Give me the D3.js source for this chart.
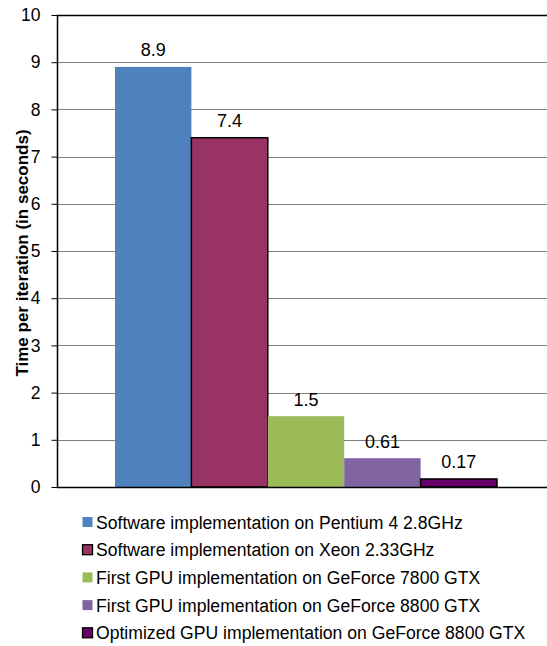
<!DOCTYPE html>
<html>
<head>
<meta charset="utf-8">
<script src="https://cdn.jsdelivr.net/npm/d3@7/dist/d3.min.js"></script>
<style>
  html, body { margin: 0; padding: 0; background: #fff; }
  svg { display: block; font-family: Arial, "Liberation Sans", sans-serif; }
</style>
</head>
<body>
<svg id="chart" width="547" height="646"></svg>
<script>
// Iteration times for each implementation
const seriesNames = [
  "Software implementation on Pentium 4 2.8GHz",
  "Software implementation on Xeon 2.33GHz",
  "First GPU implementation on GeForce 7800 GTX",
  "First GPU implementation on GeForce 8800 GTX",
  "Optimized GPU implementation on GeForce 8800 GTX"
];
const seriesValues = [8.9, 7.4, 1.5, 0.61, 0.17];
const valueLabels = ["8.9", "7.4", "1.5", "0.61", "0.17"];
const seriesColors = ["#4F81BD", "#993366", "#9BBB59", "#8064A2", "#660066"];
const seriesOutlined = [false, true, false, false, true];
const yTicks = [0, 1, 2, 3, 4, 5, 6, 7, 8, 9, 10];
const yTitle = "Time per iteration (in seconds)";

const svg = d3.select("#chart");

const plot = { left: 57, right: 547, top: 15, bottom: 487 };

const y = d3.scaleLinear().domain([0, 10]).range([plot.bottom, plot.top]);
const x = d3.scaleBand()
  .domain(d3.range(seriesNames.length))
  .range([115, 497])
  .padding(0);

// horizontal gridlines
svg.append("g")
  .selectAll("line")
  .data(yTicks.filter(t => t > 0))
  .join("line")
  .attr("x1", plot.left)
  .attr("x2", plot.right)
  .attr("y1", d => Math.round(y(d)) + 0.5)
  .attr("y2", d => Math.round(y(d)) + 0.5)
  .attr("stroke", d => d === 10 ? "#000" : "#808080")
  .attr("stroke-width", d => d === 10 ? 1.5 : 1.2);

// y axis
const yAxis = d3.axisLeft(y)
  .tickValues(yTicks)
  .tickSize(6)
  .tickPadding(11)
  .tickFormat(d3.format("d"));

const ga = svg.append("g")
  .attr("transform", `translate(${plot.left + 0.5},0)`)
  .call(yAxis);
ga.select(".domain").remove();
ga.selectAll(".tick line").attr("stroke", "#000");
ga.selectAll(".tick text")
  .attr("fill", "#000")
  .style("font-size", "17.5px")
  .style("font-family", "Arial, 'Liberation Sans', sans-serif");

// bars
svg.append("g")
  .selectAll("rect")
  .data(seriesValues)
  .join("rect")
  .attr("x", (d, i) => x(i))
  .attr("width", x.bandwidth())
  .attr("y", d => y(d))
  .attr("height", d => y(0) - y(d))
  .attr("fill", (d, i) => seriesColors[i])
  .attr("stroke", (d, i) => seriesOutlined[i] ? "#000" : "none")
  .attr("stroke-width", 1.5);

// value labels
svg.append("g")
  .selectAll("text")
  .data(seriesValues)
  .join("text")
  .attr("x", (d, i) => x(i) + x.bandwidth() / 2)
  .attr("y", d => y(d) - 10.5)
  .attr("text-anchor", "middle")
  .style("font-size", "18px")
  .attr("fill", "#000")
  .text((d, i) => valueLabels[i]);

// axis lines (vertical axis and baseline)
svg.append("line")
  .attr("x1", plot.left + 0.5).attr("x2", plot.left + 0.5)
  .attr("y1", plot.top).attr("y2", plot.bottom + 0.5)
  .attr("stroke", "#000").attr("stroke-width", 1.5);
svg.append("line")
  .attr("x1", plot.left).attr("x2", plot.right)
  .attr("y1", plot.bottom + 0.5).attr("y2", plot.bottom + 0.5)
  .attr("stroke", "#000").attr("stroke-width", 1.5);

// y axis title
svg.append("text")
  .attr("transform", "translate(28,253) rotate(-90)")
  .attr("text-anchor", "middle")
  .style("font-size", "17px")
  .style("font-weight", "bold")
  .attr("fill", "#000")
  .text(yTitle);

// legend
const legend = svg.append("g")
  .selectAll("g")
  .data(seriesNames)
  .join("g")
  .attr("transform", (d, i) => `translate(82,${522 + i * 27.7})`);

legend.append("rect")
  .attr("x", 0.5)
  .attr("y", -5)
  .attr("width", 10)
  .attr("height", 10)
  .attr("fill", (d, i) => seriesColors[i])
  .attr("stroke", (d, i) => seriesOutlined[i] ? "#000" : "none")
  .attr("stroke-width", 1.3);

legend.append("text")
  .attr("x", 14)
  .attr("y", 6.5)
  .style("font-size", "17.6px")
  .attr("fill", "#000")
  .text(d => d);
</script>
</body>
</html>
